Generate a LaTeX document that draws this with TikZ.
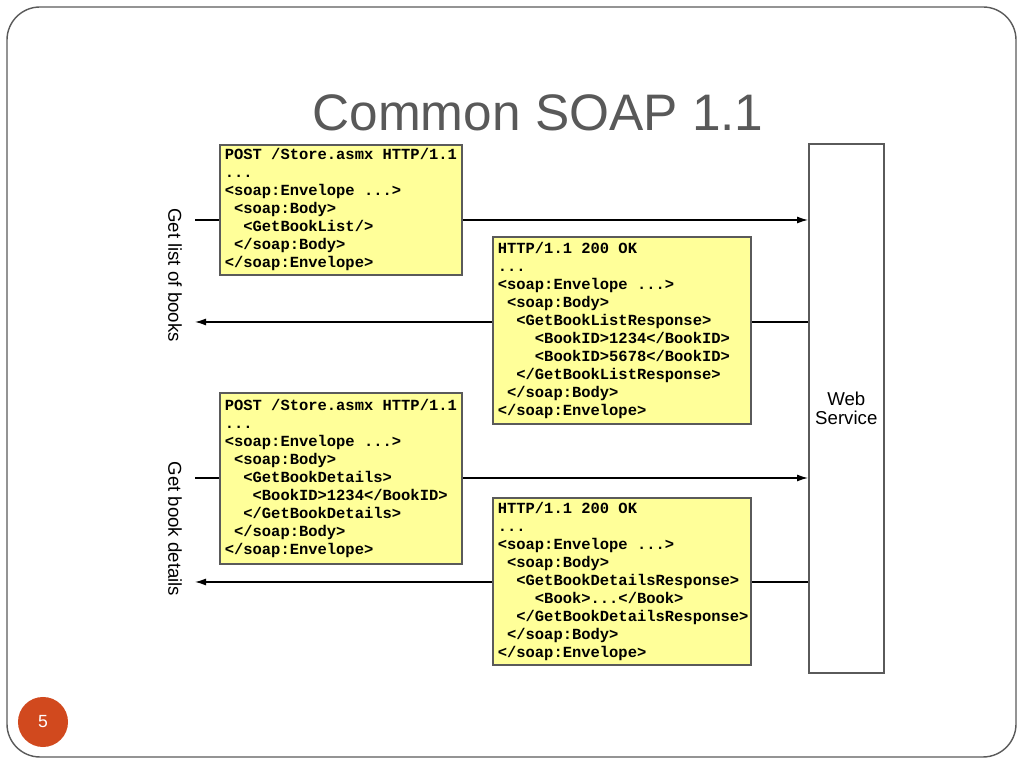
\documentclass[tikz,border=0pt]{standalone}
\usepackage{fontspec}
\setmainfont{Liberation Sans}
\setsansfont{Liberation Sans}
\setmonofont{Liberation Mono}
\usepackage{tikz}
\usetikzlibrary{arrows.meta, positioning}
\tikzset{>={Latex[length=1.1mm,width=0.7mm]}}
\usepackage{xcolor}
\definecolor{msgyellow}{RGB}{255,255,153}
\definecolor{framegray}{RGB}{90,90,90}
\definecolor{titlegray}{RGB}{89,89,89}
\definecolor{slideorange}{RGB}{209,73,30}
\tikzset{
  msgbox/.style={draw=framegray, line width=0.45pt, fill=msgyellow, anchor=north west, align=left,
    inner xsep=0.05cm, inner ysep=0pt, font=\fontsize{4.4}{5.12}\selectfont\ttfamily\bfseries},
  flow/.style={line width=0.35pt},
  sidelabel/.style={rotate=-90, font=\fontsize{5.3}{6}\selectfont\sffamily},
}
\newcommand{\msgind}[1]{\hspace*{#1\fontcharwd\font`x}}
\newcommand{\msp}{\msgind{1}}

\begin{document}
\begin{tikzpicture}[x=0.01cm,y=-0.01cm]
\useasboundingbox (0,0) rectangle (1024,768);
\draw [framegray, line width=0.4pt, rounded corners=0.33cm] (7,7) rectangle (1016,757);
\node [anchor=base, text=titlegray, font=\fontsize{14.6}{16}\selectfont\sffamily] (title) at (538,131) {Common SOAP 1.1};
\node [circle, fill=slideorange, minimum size=0.5cm, inner sep=0pt, text=white, font=\fontsize{5}{5}\selectfont\sffamily] (pgnum) at (43,722) {5};

\node [draw=framegray, line width=0.45pt, fill=white, anchor=north west, minimum width=0.75cm, minimum height=5.29cm,
  inner xsep=0pt, align=center, font=\fontsize{5.3}{5.6}\selectfont\sffamily] (ws) at (808,143) {Web\\Service};

% calls and responses
\coordinate (c1) at (195,220);
\coordinate (c2) at (195,322);
\coordinate (c3) at (195,478);
\coordinate (c4) at (195,582);
\draw [flow,->] (c1) -- (c1 -| ws.west);
\draw [flow,->] (c2 -| ws.west) -- (c2);
\draw [flow,->] (c3) -- (c3 -| ws.west);
\draw [flow,->] (c4 -| ws.west) -- (c4);

\node [sidelabel] (lbl1) at (175,275) {Get list of books};
\node [sidelabel] (lbl2) at (175,529) {Get book details};

\node [msgbox, text width=2.32cm, minimum height=1.30cm] (req1) at (219,144)
  {POST\msp/Store.asmx\msp HTTP/1.1\\...\\<soap:Envelope\msp...>\\\msgind{1}<soap:Body>\\\msgind{2}<GetBookList/>\\\msgind{1}</soap:Body>\\</soap:Envelope>};
\node [msgbox, text width=2.48cm, minimum height=1.87cm] (resp1) at (492,236)
  {HTTP/1.1\msp200\msp OK\\...\\<soap:Envelope\msp...>\\\msgind{1}<soap:Body>\\\msgind{2}<GetBookListResponse>\\\msgind{4}<BookID>1234</BookID>\\\msgind{4}<BookID>5678</BookID>\\\msgind{2}</GetBookListResponse>\\\msgind{1}</soap:Body>\\</soap:Envelope>};
\node [msgbox, text width=2.32cm, minimum height=1.71cm] (req2) at (219,392)
  {POST\msp/Store.asmx\msp HTTP/1.1\\...\\<soap:Envelope\msp...>\\\msgind{1}<soap:Body>\\\msgind{2}<GetBookDetails>\\\msgind{3}<BookID>1234</BookID>\\\msgind{2}</GetBookDetails>\\\msgind{1}</soap:Body>\\</soap:Envelope>};
\node [msgbox, text width=2.48cm, minimum height=1.67cm] (resp2) at (492,497)
  {HTTP/1.1\msp200\msp OK\\...\\<soap:Envelope\msp...>\\\msgind{1}<soap:Body>\\\msgind{2}<GetBookDetailsResponse>\\\msgind{4}<Book>...</Book>\\\msgind{2}</GetBookDetailsResponse>\\\msgind{1}</soap:Body>\\</soap:Envelope>};
\end{tikzpicture}
\end{document}
